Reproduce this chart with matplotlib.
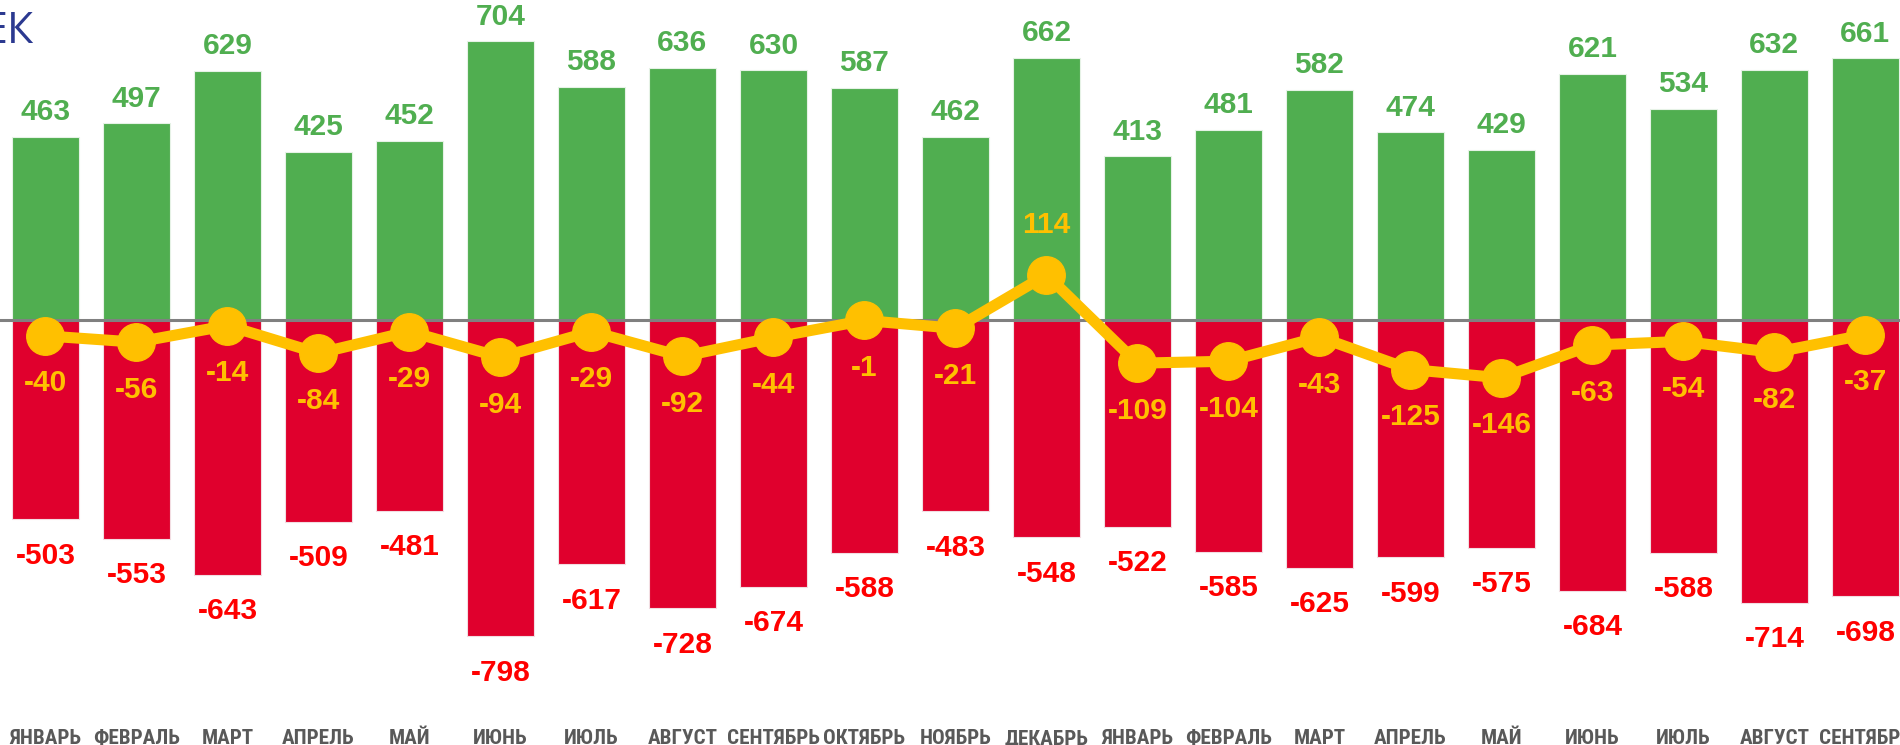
import matplotlib
matplotlib.use("Agg")
from matplotlib import pyplot as plt
import numpy as np

# monthly data: arrivals (green), departures (red), net change (yellow line)
months = ["ЯНВАРЬ", "ФЕВРАЛЬ", "МАРТ", "АПРЕЛЬ", "МАЙ", "ИЮНЬ", "ИЮЛЬ",
          "АВГУСТ", "СЕНТЯБРЬ", "ОКТЯБРЬ", "НОЯБРЬ", "ДЕКАБРЬ",
          "ЯНВАРЬ", "ФЕВРАЛЬ", "МАРТ", "АПРЕЛЬ", "МАЙ", "ИЮНЬ", "ИЮЛЬ",
          "АВГУСТ", "СЕНТЯБРЬ"]
came = [463, 497, 629, 425, 452, 704, 588, 636, 630, 587, 462, 662,
        413, 481, 582, 474, 429, 621, 534, 632, 661]
left = [-503, -553, -643, -509, -481, -798, -617, -728, -674, -588, -483, -548,
        -522, -585, -625, -599, -575, -684, -588, -714, -698]
net = [-40, -56, -14, -84, -29, -94, -29, -92, -44, -1, -21, 114,
       -109, -104, -43, -125, -146, -63, -54, -82, -37]

GREEN = "#50AE50"
RED_BAR = "#E0002D"
RED_TXT = "#FF0000"
YELLOW = "#FFC000"

fig = plt.figure(figsize=(19, 7.45), dpi=100)
ax = fig.add_axes([0, 0, 1, 1])
x = np.arange(len(months))

ax.bar(x, came, width=0.736, color=GREEN, edgecolor="#e6f2e6", linewidth=0.8, zorder=2)
ax.bar(x, left, width=0.736, color=RED_BAR, edgecolor="#f2dde2", linewidth=0.8, zorder=2)
ax.axhline(0, color="#808080", linewidth=2.2, zorder=3)
ax.plot(x, net, color=YELLOW, linewidth=8, marker="o", markersize=27, zorder=4)

num_font = dict(family="Liberation Sans", fontweight="bold", fontsize=21.5)
for i in range(len(months)):
    ax.annotate(str(came[i]), (x[i], came[i]), xytext=(0, 12), textcoords="offset points",
                ha="center", va="baseline", color=GREEN, zorder=5, **num_font)
    ax.annotate(str(left[i]), (x[i], left[i]), xytext=(0, -32), textcoords="offset points",
                ha="center", va="baseline", color=RED_TXT, zorder=5, **num_font)
    off = 30 if net[i] > 0 else -40
    ax.annotate(str(net[i]), (x[i], net[i]), xytext=(0, off), textcoords="offset points",
                ha="center", va="baseline", color=YELLOW, zorder=5, **num_font)
    # month names sit at the very bottom edge
    ax.text(x[i], -1071, months[i], ha="center", va="baseline", color="#595959",
            family="Roboto Condensed", fontweight="bold", fontsize=15.2)

# remains of the title, cut at the left edge
fig.text(34 / 1900, 1 - 43 / 745, "ЕК", ha="right", va="baseline",
         color="#2B3990", family="Open Sans", fontsize=31)

ax.set_xlim(-0.5, 20.38)
ax.set_ylim(-1073, 808)
ax.axis("off")

fig.savefig("out.png", dpi=100)
